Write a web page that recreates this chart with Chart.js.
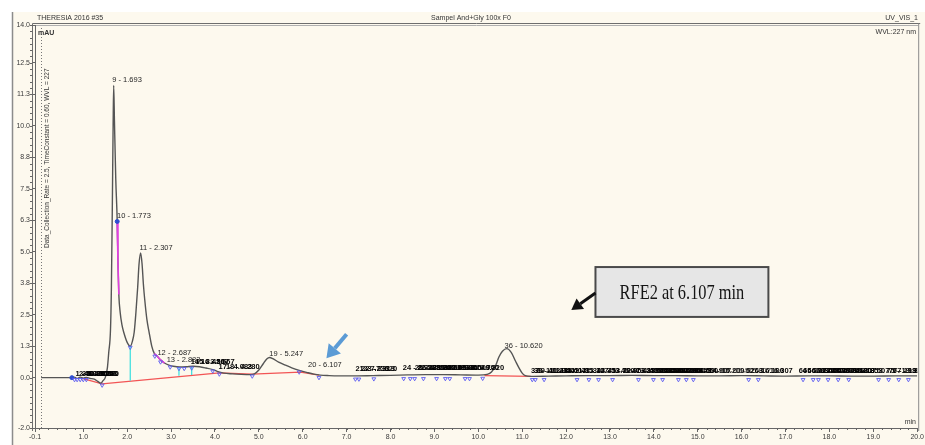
<!DOCTYPE html>
<html>
<head>
<meta charset="utf-8">
<script src="https://cdn.jsdelivr.net/npm/chart.js@4.4.0/dist/chart.umd.min.js"></script>
<style>
html,body{margin:0;padding:0;background:#fff;}
canvas{display:block;}
</style>
</head>
<body>
<canvas id="c" width="925" height="445"></canvas>
<script>
// ---------- DATA ----------
const headerTexts = ['THERESIA 2016 #35', 'Sampel And+Gly 100x F0', 'UV_VIS_1'];
const wavelengthText = 'WVL:227 nm';
const yUnitText = 'mAU';
const xUnitText = 'min';
const sideNote = 'Data_Collection_Rate = 2.5, TimeConstant = 0.60, WVL = 227';
const calloutText = 'RFE2 at 6.107 min';

const xTickValues = [-0.1,1,2,3,4,5,6,7,8,9,10,11,12,13,14,15,16,17,18,19,20];
const xTickLabels = ['-0.1','1.0','2.0','3.0','4.0','5.0','6.0','7.0','8.0','9.0','10.0','11.0','12.0','13.0','14.0','15.0','16.0','17.0','18.0','19.0','20.0'];
const yTickValues = [-2,0,1.25,2.5,3.75,5,6.25,7.5,8.75,10,11.25,12.5,14];
const yTickLabels = ['-2.0','0.0','1.3','2.5','3.8','5.0','6.3','7.5','8.8','10.0','11.3','12.5','14.0'];

// chromatogram trace (time in min, absorbance in mAU)
const traceTime = [0.04,0.5,0.74,0.8,0.86,0.93,1.0,1.07,1.15,1.25,1.33,1.4,1.45,1.5,1.55,1.58,1.62,1.64,1.66,1.68,1.693,1.71,1.74,1.773,1.79,1.81,1.84,1.88,1.93,2.0,2.07,2.12,2.16,2.2,2.24,2.27,2.307,2.34,2.37,2.4,2.45,2.5,2.56,2.62,2.687,2.75,2.85,2.95,3.05,3.2,3.35,3.5,3.65,3.8,3.95,4.05,4.2,4.4,4.6,4.8,4.9,5.0,5.1,5.18,5.247,5.32,5.45,5.6,5.75,5.92,6.107,6.25,6.4,6.6,6.8,7.2,7.6,8.0,8.4,8.8,9.2,9.6,10.0,10.2,10.3,10.4,10.47,10.55,10.65,10.75,10.85,10.93,11.0,11.07,11.2,11.6,12.0,12.5,13.0,13.5,14.0,14.5,15.0,15.5,16.0,16.5,17.0,17.5,18.0,18.5,19.0,19.5,20.0];
const traceValue = [0.0,0.0,0.0,0.02,-0.03,0.02,-0.02,0.01,-0.03,-0.06,-0.15,-0.22,-0.12,0.0,0.4,1.0,1.9,3.5,6.5,10.0,11.6,10.2,7.9,6.2,4.6,3.3,2.6,2.1,1.75,1.4,1.25,1.45,1.8,2.6,3.6,4.5,4.95,4.5,3.7,3.1,2.3,1.8,1.25,0.95,0.85,0.72,0.58,0.5,0.45,0.42,0.43,0.45,0.43,0.38,0.32,0.25,0.18,0.15,0.13,0.12,0.15,0.3,0.55,0.74,0.8,0.75,0.62,0.5,0.39,0.29,0.2,0.14,0.1,0.08,0.07,0.07,0.08,0.09,0.11,0.12,0.12,0.11,0.1,0.13,0.22,0.5,0.82,1.05,1.15,1.0,0.65,0.38,0.18,0.08,0.05,0.06,0.07,0.08,0.08,0.09,0.08,0.08,0.07,0.07,0.08,0.07,0.06,0.07,0.07,0.06,0.06,0.07,0.07];

// integration baseline (red), drop lines (cyan), highlighted segments (magenta)
const baseTime = [0.95,1.43,4.1,4.85,5.95,6.37,8.0,10.14,11.2];
const baseValue = [-0.02,-0.25,0.19,0.14,0.22,0.1,null,0.08,0.05];
const dropTime = [2.07,2.07,2.5,3.18,3.18,3.3,3.47,3.47];
const dropValue = [1.25,-0.12,null,0.42,0.07,null,0.43,0.1];
const highlightTime = [1.773,1.79,1.81,2.0,2.62,2.687,2.75,2.85];
const highlightValue = [6.2,4.6,3.3,null,0.95,0.85,0.72,0.58];

// peak start/end markers
const markerTime = [0.8,0.86,0.93,1.0,1.07,1.43,2.07,2.63,2.76,2.98,3.18,3.3,3.47,3.95,4.1,4.85,5.92,6.37,7.2,7.28,7.62,8.3,8.45,8.55,8.75,9.05,9.25,9.35,9.7,9.8,10.1,11.23,11.3,11.5,12.25,12.52,12.74,13.06,13.65,13.99,14.2,14.56,14.74,14.9,16.16,16.38,17.4,17.63,17.75,17.97,18.2,18.44,19.12,19.35,19.58,19.8];
const markerValue = [-0.08,-0.08,-0.08,-0.08,-0.08,-0.3,1.2,0.85,0.62,0.42,0.36,0.36,0.38,0.26,0.14,0.06,0.22,0.0,-0.06,-0.06,-0.05,-0.04,-0.04,-0.04,-0.04,-0.04,-0.04,-0.04,-0.04,-0.04,-0.03,-0.08,-0.08,-0.08,-0.08,-0.08,-0.08,-0.08,-0.08,-0.08,-0.08,-0.08,-0.08,-0.08,-0.08,-0.08,-0.08,-0.08,-0.08,-0.08,-0.08,-0.08,-0.08,-0.08,-0.08,-0.08];
const dotTime = [0.74,1.773];
const dotValue = [0.0,6.2];

// peak labels
const labelText = ['9 - 1.693','10 - 1.773','11 - 2.307','12 - 2.687','13 - 2.883','14 - 3.420','15 - 3.567','16 - 3.667','17 - 4.083','18 - 4.280','19 - 5.247','20 - 6.107','36 - 10.620',
 '1 - 0.820','2 - 0.887','3 - 0.960','4 - 1.027','5 - 1.087','6 - 1.153','7 - 1.240','8 - 1.380',
 '21 - 7.233','22 - 7.313','23 - 7.620',
 '24 - 8.287','25 - 8.553','26 - 8.620','27 - 8.700','28 - 8.853','29 - 8.953','30 - 9.053','31 - 9.200','32 - 9.300','33 - 9.500','34 - 9.700','35 - 9.820',
 '37 - 11.213','38 - 11.273','39 - 11.340','40 - 11.607','41 - 11.853','42 - 12.107','43 - 12.353','44 - 12.700','45 - 12.953','46 - 13.253','47 - 13.500','48 - 13.753','49 - 13.900','50 - 14.007','51 - 14.053','52 - 14.153','53 - 14.200','54 - 14.253','55 - 14.300','56 - 14.453','57 - 14.600','58 - 14.907','59 - 15.200','60 - 15.507','61 - 15.807','62 - 16.100','63 - 16.307','64 - 17.307','65 - 17.400','66 - 17.507','67 - 17.600','68 - 17.707','69 - 17.800','70 - 17.953','71 - 18.100','72 - 18.207','73 - 18.353','74 - 18.507','75 - 19.307','76 - 19.353','77 - 19.453'];
const labelTime = [1.66,1.77,2.28,2.69,2.9,3.45,3.55,3.68,4.08,4.25,5.24,6.12,10.6,
 0.82,0.9,0.97,1.02,1.06,1.1,1.12,1.14,
 7.2,7.33,7.38,
 8.28,8.55,8.62,8.7,8.85,8.95,9.05,9.2,9.3,9.5,9.7,9.82,
 11.2,11.27,11.33,11.6,11.85,12.1,12.35,12.7,12.95,13.25,13.5,13.75,13.9,14.0,14.05,14.15,14.2,14.25,14.3,14.45,14.6,14.9,15.2,15.5,15.8,16.1,16.3,17.3,17.4,17.5,17.6,17.7,17.8,17.95,18.1,18.2,18.35,18.5,19.3,19.35,19.45];
const labelLevel = [11.65,6.25,5.0,0.83,0.56,0.48,0.48,0.48,0.26,0.26,0.77,0.35,1.1,
 0.0,0.0,0.0,0.0,0.0,0.0,0.0,0.0,
 0.2,0.2,0.2,
 0.22,0.22,0.22,0.22,0.22,0.22,0.22,0.22,0.22,0.22,0.22,0.22,
 0.1,0.1,0.1,0.1,0.1,0.1,0.1,0.1,0.1,0.1,0.1,0.1,0.1,0.1,0.1,0.1,0.1,0.1,0.1,0.1,0.1,0.1,0.1,0.1,0.1,0.1,0.1,0.1,0.1,0.1,0.1,0.1,0.1,0.1,0.1,0.1,0.1,0.1,0.1,0.1,0.1];

// ---------- helpers ----------
const toPts = (xs, ys) => xs.map((x, i) => ({x: x, y: ys[i]}));
const SANS = '"Liberation Sans", Arial, sans-serif';

// annotation positions in data units (time, mAU)
const annot = {
  blueArrow: {from: [7.0, 1.72], to: [6.54, 0.77]},
  box: {x1: 12.67, x2: 16.61, yTop: 4.39, yBottom: 2.41},
  blackArrow: {from: [12.67, 3.36], to: [12.12, 2.68]}
};

function arrow(c, x1, y1, x2, y2, color, lw, headLen, headW) {
  const ang = Math.atan2(y2 - y1, x2 - x1);
  const bx = x2 - headLen * Math.cos(ang), by = y2 - headLen * Math.sin(ang);
  c.strokeStyle = color; c.fillStyle = color; c.lineWidth = lw; c.lineCap = 'butt';
  c.beginPath(); c.moveTo(x1, y1); c.lineTo(bx, by); c.stroke();
  c.beginPath();
  c.moveTo(x2, y2);
  c.lineTo(bx + headW * Math.sin(ang), by - headW * Math.cos(ang));
  c.lineTo(bx - headW * Math.sin(ang), by + headW * Math.cos(ang));
  c.closePath(); c.fill();
}

const decor = {
  id: 'decor',
  beforeDraw(chart) {
    const c = chart.ctx, W = chart.width, H = chart.height, a = chart.chartArea;
    c.save();
    c.fillStyle = '#ffffff'; c.fillRect(0, 0, W, H);
    c.fillStyle = '#fdf9ee'; c.fillRect(12, 12, W - 12, H - 12);
    c.strokeStyle = '#8c8c8c'; c.lineWidth = 1.5;
    c.beginPath(); c.moveTo(12.5, 12); c.lineTo(12.5, H); c.stroke();
    // plot frame
    c.lineWidth = 1;
    c.strokeStyle = '#6e6e6e';
    c.beginPath(); c.moveTo(a.left - 2.5, a.top - 1.5); c.lineTo(a.right + 3, a.top - 1.5); c.stroke();
    c.strokeStyle = '#b0b0b0';
    c.beginPath(); c.moveTo(a.left, a.top + 0.5); c.lineTo(a.right + 1, a.top + 0.5); c.stroke();
    c.strokeStyle = '#8a8a8a';
    c.beginPath(); c.moveTo(a.right + 1.5, a.top - 1.5); c.lineTo(a.right + 1.5, a.bottom + 3); c.stroke();
    c.strokeStyle = '#6e6e6e';
    c.beginPath(); c.moveTo(a.left - 2.5, a.top - 1.5); c.lineTo(a.left - 2.5, a.bottom + 3); c.stroke();
    // dotted inner vertical line
    c.strokeStyle = '#777'; c.setLineDash([1, 2]);
    c.beginPath(); c.moveTo(a.left + 6.5, a.top + 3); c.lineTo(a.left + 6.5, a.bottom); c.stroke();
    c.setLineDash([]);
    // minor ticks
    const xs = chart.scales.x, ys = chart.scales.y;
    c.strokeStyle = '#666';
    c.beginPath();
    for (let v = -2; v <= 14.001; v += 0.25) {
      const py = Math.round(ys.getPixelForValue(v)) + 0.5;
      c.moveTo(a.left - 5, py); c.lineTo(a.left - 3, py);
    }
    for (let t = 0; t <= 20.001; t += 0.2) {
      const px = Math.round(xs.getPixelForValue(t)) + 0.5;
      c.moveTo(px, a.bottom); c.lineTo(px, a.bottom + 2);
    }
    c.stroke();
    // header texts
    c.fillStyle = '#333'; c.font = '7px ' + SANS; c.textBaseline = 'alphabetic';
    c.textAlign = 'left'; c.fillText(headerTexts[0], 37, 20);
    c.textAlign = 'center'; c.fillText(headerTexts[1], 471, 20);
    c.textAlign = 'right'; c.fillText(headerTexts[2], 918, 20);
    c.fillText(wavelengthText, 916, 34);
    c.fillText(xUnitText, 916, 424);
    c.textAlign = 'left';
    c.font = 'bold 7px ' + SANS;
    c.fillText(yUnitText, 38, 35);
    // rotated side note
    c.font = '6.5px ' + SANS;
    c.translate(47, 248); c.rotate(-Math.PI / 2);
    c.textBaseline = 'middle';
    c.fillText(sideNote, 0, 0);
    c.restore();
  },
  afterDatasetsDraw(chart) {
    const c = chart.ctx, a = chart.chartArea, xs = chart.scales.x, ys = chart.scales.y;
    c.save();
    c.beginPath(); c.rect(a.left, a.top, a.right - a.left, a.bottom - a.top); c.clip();
    c.textAlign = 'left'; c.textBaseline = 'alphabetic';
    for (let i = 0; i < labelText.length; i++) {
      // labels that overlap a neighbour print as a dark crowded block
      let crowded = false;
      for (let j = 0; j < labelText.length; j++) {
        if (j !== i && Math.abs(labelTime[j] - labelTime[i]) < 0.3 && Math.abs(labelLevel[j] - labelLevel[i]) < 0.05) { crowded = true; break; }
      }
      c.fillStyle = crowded ? '#050505' : '#262626';
      c.font = (crowded ? 'bold ' : '') + '7.5px ' + SANS;
      c.fillText(labelText[i], xs.getPixelForValue(labelTime[i]), ys.getPixelForValue(labelLevel[i]) - 2);
    }
    c.restore();
  },
  afterDraw(chart) {
    const c = chart.ctx, xs = chart.scales.x, ys = chart.scales.y;
    const X = v => xs.getPixelForValue(v), Y = v => ys.getPixelForValue(v);
    c.save();
    // blue arrow
    const ba = annot.blueArrow;
    arrow(c, X(ba.from[0]), Y(ba.from[1]), X(ba.to[0]), Y(ba.to[1]), '#5b9bd5', 4, 13, 8);
    // callout box
    const b = annot.box;
    const bx = X(b.x1), by = Y(b.yTop), bw = X(b.x2) - X(b.x1), bh = Y(b.yBottom) - Y(b.yTop);
    c.fillStyle = '#e6e6e6'; c.fillRect(bx, by, bw, bh);
    c.strokeStyle = '#4a4a4a'; c.lineWidth = 2; c.strokeRect(bx, by, bw, bh);
    c.fillStyle = '#141414';
    c.font = '21px "Liberation Serif", "Times New Roman", serif';
    c.textAlign = 'center'; c.textBaseline = 'middle';
    c.save();
    c.translate(bx + bw / 2, by + bh / 2 + 1);
    c.scale(0.78, 1);
    c.fillText(calloutText, 0, 0);
    c.restore();
    // black arrow
    const ka = annot.blackArrow;
    arrow(c, X(ka.from[0]), Y(ka.from[1]), X(ka.to[0]), Y(ka.to[1]), '#111', 3, 11, 6.5);
    c.restore();
  }
};

new Chart(document.getElementById('c'), {
  type: 'line',
  data: {
    datasets: [
      {label: 'markers', data: toPts(markerTime, markerValue), showLine: false, pointStyle: 'triangle', rotation: 180,
       pointRadius: 2.2, pointBorderColor: '#5c5cf2', pointBackgroundColor: 'rgba(0,0,0,0)', pointBorderWidth: 0.9, order: 0},
      {label: 'dots', data: toPts(dotTime, dotValue), showLine: false, pointRadius: 2, pointBackgroundColor: '#2f4fd0',
       pointBorderColor: '#2f4fd0', order: 1},
      {label: 'highlight', data: toPts(highlightTime, highlightValue), borderColor: '#e040e0', borderWidth: 1.6,
       pointRadius: 0, spanGaps: false, order: 2},
      {label: 'trace', data: toPts(traceTime, traceValue), borderColor: '#555555', borderWidth: 1.4,
       pointRadius: 0, cubicInterpolationMode: 'monotone', order: 3},
      {label: 'drop', data: toPts(dropTime, dropValue), borderColor: '#35dede', borderWidth: 1.2,
       pointRadius: 0, spanGaps: false, order: 4},
      {label: 'baseline', data: toPts(baseTime, baseValue), borderColor: '#f25555', borderWidth: 1.2,
       pointRadius: 0, spanGaps: false, order: 5}
    ]
  },
  options: {
    responsive: false,
    animation: false,
    devicePixelRatio: 1,
    layout: {padding: {left: 0, right: 7, top: 25, bottom: 0}},
    plugins: {legend: {display: false}, tooltip: {enabled: false}, title: {display: false}},
    scales: {
      x: {
        type: 'linear', min: -0.1, max: 20,
        afterBuildTicks: s => { s.ticks = xTickValues.map(v => ({value: v})); },
        afterFit: s => { s.height = 17; },
        ticks: {callback: (v, i) => xTickLabels[i], font: {size: 7, family: SANS}, color: '#3a3a3a',
                padding: 1, maxRotation: 0, autoSkip: false},
        grid: {drawOnChartArea: false, tickLength: 4, color: '#666'},
        border: {display: true, color: '#666', width: 1}
      },
      y: {
        type: 'linear', min: -2, max: 14,
        afterBuildTicks: s => { s.ticks = yTickValues.map(v => ({value: v})); },
        afterFit: s => { s.width = 35; },
        ticks: {callback: (v, i) => yTickLabels[i], font: {size: 7, family: SANS}, color: '#3a3a3a',
                padding: 2, autoSkip: false},
        grid: {drawOnChartArea: false, tickLength: 3, color: '#666'},
        border: {display: true, color: '#666', width: 1}
      }
    }
  },
  plugins: [decor]
});
</script>
</body>
</html>
